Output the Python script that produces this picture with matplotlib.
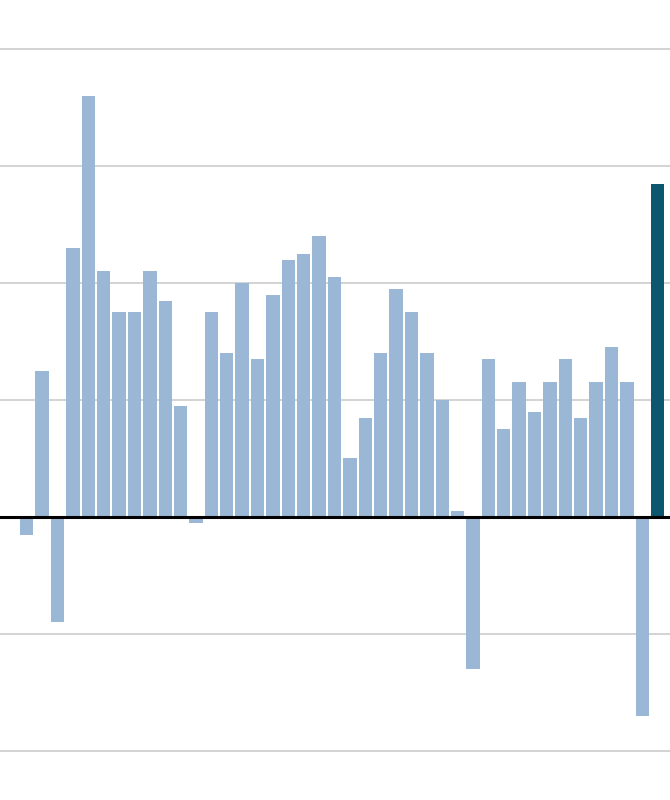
import matplotlib
matplotlib.use("Agg")
import matplotlib.pyplot as plt

values = [-0.15, 1.25, -0.90, 2.30, 3.60, 2.10, 1.75, 1.75, 2.10, 1.85,
          0.95, -0.05, 1.75, 1.40, 2.00, 1.35, 1.90, 2.20, 2.25, 2.40,
          2.05, 0.50, 0.85, 1.40, 1.95, 1.75, 1.40, 1.00, 0.05, -1.30,
          1.35, 0.75, 1.15, 0.90, 1.15, 1.35, 0.85, 1.15, 1.45, 1.15,
          -1.70, 2.85]
grid_levels = [-2, -1, 1, 2, 3, 4]

light = "#9bb7d6"
dark = "#0c5670"
colors = [light] * (len(values) - 1) + [dark]

fig = plt.figure(figsize=(6.7, 8), dpi=100)
ax = fig.add_axes([0, 0, 1, 1])

for g in grid_levels:
    ax.axhline(g, color="#cccccc", lw=1.2, zorder=0)

x = list(range(len(values)))
ax.bar(x, values, width=0.87, color=colors, zorder=2)
ax.axhline(0, color="black", lw=2.2, zorder=3)

ax.set_xlim(-1.735, 41.80)
ax.set_ylim(-2.419, 4.419)
ax.axis("off")

fig.savefig("out.png", dpi=100)
